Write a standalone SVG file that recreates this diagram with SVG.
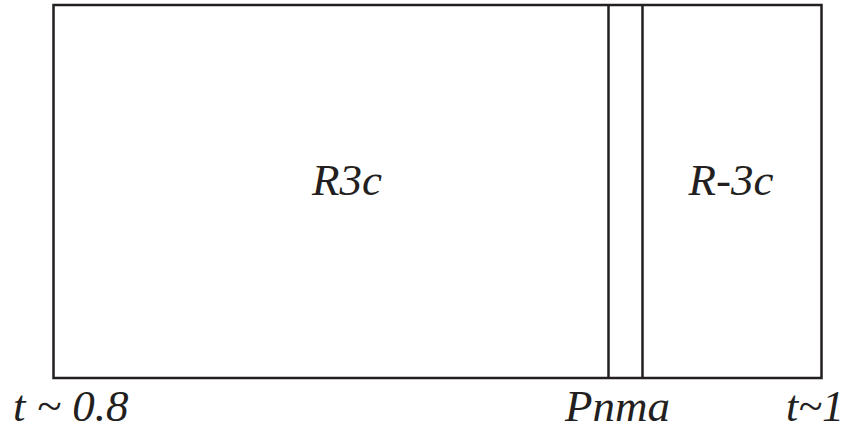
<svg xmlns="http://www.w3.org/2000/svg" width="846" height="432" viewBox="0 0 846 432">
<style>
.ln{fill:none;stroke:#231f20;stroke-width:2.5}
.t{font-family:"Liberation Serif","Times New Roman",serif;font-style:italic;fill:#231f20}
</style>
<rect width="846" height="432" fill="#fff"/>
<g id="frame">
<rect class="ln" x="53.5" y="5" width="768" height="373"/>
</g>
<g id="connectors">
<line class="ln" x1="608.5" y1="5" x2="608.5" y2="378"/>
<line class="ln" x1="642.5" y1="5" x2="642.5" y2="378"/>
</g>
<g id="r3c"><text class="t" x="347" y="195" font-size="45" text-anchor="middle">R3c</text></g>
<g id="rm3c"><text class="t" x="731" y="195" font-size="45" text-anchor="middle">R-3c</text></g>
<g id="t08"><text class="t" x="13" y="421" font-size="45">t ~ 0.8</text></g>
<g id="pnma"><text class="t" x="565" y="421" font-size="45">Pnma</text></g>
<g id="t1"><text class="t" x="844" y="421" font-size="44" text-anchor="end">t~1</text></g>
</svg>
